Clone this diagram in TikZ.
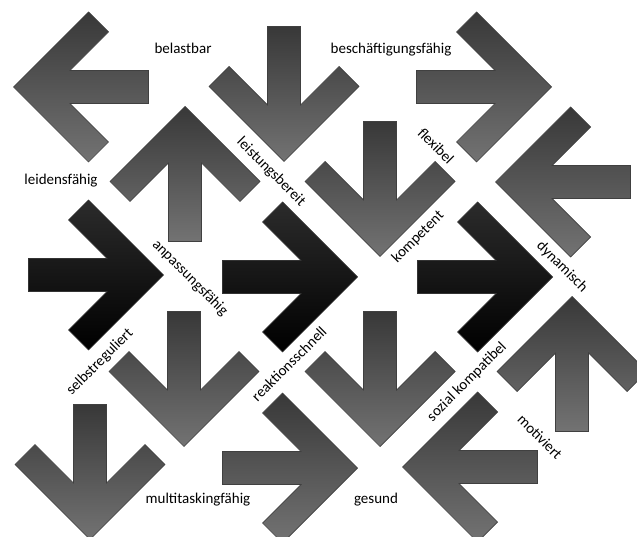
\documentclass[tikz,border=0pt]{standalone}
\usepackage{fontspec}
\setmainfont{Carlito}
\tikzset{
  garrow/.style={draw=black!75, line width=0.7pt, top color=black!78, bottom color=black!55},
  barrow/.style={draw=black!80, line width=0.7pt, top color=black!83, bottom color=black},
  lbl/.style={font=\fontsize{15}{18}\selectfont, inner sep=0pt, text=black},
  pics/arrR/.style={code={\path[#1] (67.5,0) -- (-7.5,-75) -- (-27.5,-55) -- (11,-16.5) -- (-67.5,-16.5) -- (-67.5,16.5) -- (11,16.5) -- (-27.5,55) -- (-7.5,75) -- cycle;}},
  pics/arrL/.style={code={\path[#1] (-67.5,0) -- (7.5,-75) -- (27.5,-55) -- (-11,-16.5) -- (67.5,-16.5) -- (67.5,16.5) -- (-11,16.5) -- (27.5,55) -- (7.5,75) -- cycle;}},
  pics/arrD/.style={code={\path[#1] (0,67.5) -- (-75,-7.5) -- (-55,-27.5) -- (-16.5,11) -- (-16.5,-67.5) -- (16.5,-67.5) -- (16.5,11) -- (55,-27.5) -- (75,-7.5) -- cycle;}},
  pics/arrU/.style={code={\path[#1] (0,-67.5) -- (-75,7.5) -- (-55,27.5) -- (-16.5,-11) -- (-16.5,67.5) -- (16.5,67.5) -- (16.5,-11) -- (55,27.5) -- (75,7.5) -- cycle;}},
}
\begin{document}
\begin{tikzpicture}[x=1pt,y=-1pt]
\useasboundingbox (0,0) rectangle (637,537);
\clip (0,0) rectangle (637,537);
% row 1
\pic (a1) at (81,87) {arrL=garrow};
\pic (a2) at (284,94) {arrD=garrow};
\pic (a3) at (484,87) {arrR=garrow};
% row 2
\pic (a4) at (185,174) {arrU=garrow};
\pic (a5) at (380,189) {arrD=garrow};
\pic (a6) at (563,182) {arrL=garrow};
% row 3 (black)
\pic (a7) at (96,275) {arrR=barrow};
\pic (a8) at (290,277) {arrR=barrow};
\pic (a9) at (485,277) {arrR=barrow};
% row 4
\pic (a10) at (184,379) {arrD=garrow};
\pic (a11) at (380,379) {arrD=garrow};
\pic (a12) at (572,364) {arrU=garrow};
% row 5
\pic (a13) at (90,472) {arrD=garrow};
\pic (a14) at (290,468) {arrR=garrow};
\pic (a15) at (470,467) {arrL=garrow};
% labels
\node[lbl, anchor=base] (l1) at (183,54) {belastbar};
\node[lbl, anchor=base] (l2) at (391,54) {beschäftigungsfähig};
\node[lbl, anchor=base] (l3) at (61,185) {leidensfähig};
\node[lbl, rotate=-45] (l4) at (271,172) {leistungsbereit};
\node[lbl, rotate=-45] (l5) at (436,146) {flexibel};
\node[lbl, rotate=45] (l6) at (418,237) {kompetent};
\node[lbl, rotate=-45] (l7) at (190,278) {anpassungsfähig};
\node[lbl, rotate=-45] (l8) at (562,267) {dynamisch};
\node[lbl, rotate=45] (l9) at (100,362) {selbstreguliert};
\node[lbl, rotate=45] (l10) at (289,364) {reaktionsschnell};
\node[lbl, rotate=45] (l11) at (467,382) {sozial kompatibel};
\node[lbl, rotate=-45] (l12) at (540,437) {motiviert};
\node[lbl, anchor=base] (l13) at (198,503) {multitaskingfähig};
\node[lbl, anchor=base] (l14) at (376,503) {gesund};
\end{tikzpicture}
\end{document}
